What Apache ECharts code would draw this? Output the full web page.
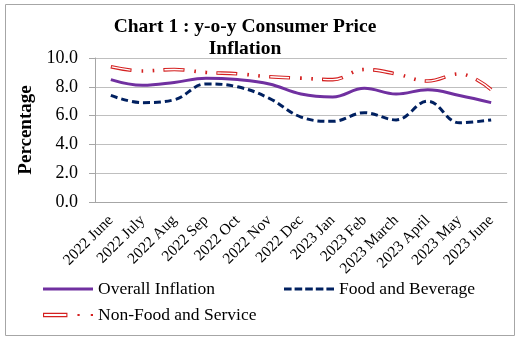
<!DOCTYPE html>
<html>
<head>
<meta charset="utf-8">
<script src="https://cdn.jsdelivr.net/npm/echarts@6/dist/echarts.min.js"></script>
<style>
  html, body { margin: 0; padding: 0; background: #fff; }
  #chart { width: 518px; height: 339px; }
</style>
</head>
<body>
<div id="chart"></div>
<script>
// Monthly year-on-year inflation, June 2022 – June 2023 (per cent)
const months = ['2022 June', '2022 July', '2022 Aug', '2022 Sep', '2022 Oct', '2022 Nov', '2022 Dec',
                '2023 Jan', '2023 Feb', '2023 March', '2023 April', '2023 May', '2023 June'];
const overallInflation = [8.5, 8.1, 8.3, 8.6, 8.5, 8.2, 7.5, 7.3, 7.9, 7.5, 7.8, 7.4, 6.9];
const foodAndBeverage  = [7.4, 6.9, 7.1, 8.2, 8.0, 7.2, 5.9, 5.6, 6.2, 5.7, 7.0, 5.5, 5.7];
const nonFoodService   = [9.4, 9.1, 9.2, 9.0, 8.9, 8.7, 8.6, 8.5, 9.2, 8.9, 8.4, 8.9, 7.8];
const yTicks = { min: 0, max: 10, interval: 2 };

const SERIF = '"Liberation Serif", "DejaVu Serif", serif';
const RED = '#d42020';
const PURPLE = '#7030a0';
const NAVY = '#002060';

// Long dash + two dots, repeated; the white core only fills the long dash
const redPattern = [21, 10, 1.6, 9.5, 1.6, 9.3];
const corePattern = [19, 34];

// Legend keys drawn as small paths (solid bar, dashed bar, hollow dash + dots)
const ICON_SOLID = 'path://M0,0H50V3H0Z';
const ICON_DASHED = 'path://M0,0H7.6V3H0Z M10.6,0H18.2V3H10.6Z M21.2,0H28.8V3H21.2Z M31.8,0H39.4V3H31.8Z M42.4,0H50V3H42.4Z';
const ICON_HOLLOW = 'path://M0,0H22V4H0Z M1,1V3H21V1Z M31,1H33V3H31Z M43,1H45V3H43Z';

const chart = echarts.init(document.getElementById('chart'), null, { renderer: 'canvas' });

const legendText = { fontFamily: SERIF, fontSize: 17.5, color: '#000' };

chart.setOption({
  animation: false,
  backgroundColor: '#fff',
  title: {
    text: 'Chart 1 : y-o-y Consumer Price\nInflation',
    left: 240, top: 11, textAlign: 'center',
    textStyle: { fontFamily: SERIF, fontSize: 19.5, fontWeight: 'bold', color: '#000', lineHeight: 22 }
  },
  graphic: [{
    type: 'rect', left: 3, top: 2, silent: true,
    shape: { width: 509, height: 331 },
    style: { fill: 'none', stroke: '#a6a6a6', lineWidth: 1 }
  }],
  grid: { left: 95, right: 11, top: 58, bottom: 137 },
  xAxis: {
    type: 'category',
    data: months,
    boundaryGap: true,
    axisLine: { lineStyle: { color: '#a6a6a6' } },
    axisTick: { show: false },
    axisLabel: { rotate: 45, margin: 16, fontFamily: SERIF, fontSize: 15.5, color: '#000', interval: 0 }
  },
  yAxis: {
    type: 'value',
    min: yTicks.min, max: yTicks.max, interval: yTicks.interval,
    name: 'Percentage', nameLocation: 'middle', nameGap: 57,
    nameTextStyle: { fontFamily: SERIF, fontSize: 19, fontWeight: 'bold', color: '#000' },
    axisLine: { show: true, lineStyle: { color: '#a6a6a6' } },
    axisTick: { show: true, length: 6, lineStyle: { color: '#a6a6a6' } },
    splitLine: { lineStyle: { color: '#bfbfbf' } },
    axisLabel: { margin: 17, fontFamily: SERIF, fontSize: 18, color: '#000',
                 formatter: v => v.toFixed(1) }
  },
  legend: [
    { left: 43, top: 280, padding: 0, itemWidth: 50, itemHeight: 14, textStyle: legendText,
      data: [{ name: 'Overall Inflation', icon: ICON_SOLID, itemStyle: { color: PURPLE, borderWidth: 0 } }] },
    { left: 284, top: 280, padding: 0, itemWidth: 50, itemHeight: 14, textStyle: legendText,
      data: [{ name: 'Food and Beverage', icon: ICON_DASHED, itemStyle: { color: NAVY, borderWidth: 0 } }] },
    { left: 43, top: 306, padding: 0, itemWidth: 50, itemHeight: 14, textStyle: legendText,
      data: [{ name: 'Non-Food and Service', icon: ICON_HOLLOW, itemStyle: { color: RED, borderWidth: 0 } }] }
  ],
  series: [
    {
      name: 'Overall Inflation', type: 'line', data: overallInflation,
      smooth: 0.4, symbol: 'none',
      lineStyle: { color: PURPLE, width: 3 },
      itemStyle: { color: PURPLE }, z: 3
    },
    {
      name: 'Food and Beverage', type: 'line', data: foodAndBeverage,
      smooth: 0.4, symbol: 'none',
      lineStyle: { color: NAVY, width: 3, type: [7, 4] },
      itemStyle: { color: NAVY }, z: 3
    },
    {
      name: 'Non-Food and Service', type: 'line', data: nonFoodService,
      smooth: 0.4, symbol: 'none',
      lineStyle: { color: RED, width: 3.6, type: redPattern, dashOffset: 0 },
      itemStyle: { color: RED }, z: 3
    },
    {
      name: 'Non-Food and Service core', type: 'line', data: nonFoodService,
      smooth: 0.4, symbol: 'none', silent: true,
      lineStyle: { color: '#fff', width: 1.4, type: corePattern, dashOffset: -1 },
      z: 4
    }
  ]
});
</script>
</body>
</html>
